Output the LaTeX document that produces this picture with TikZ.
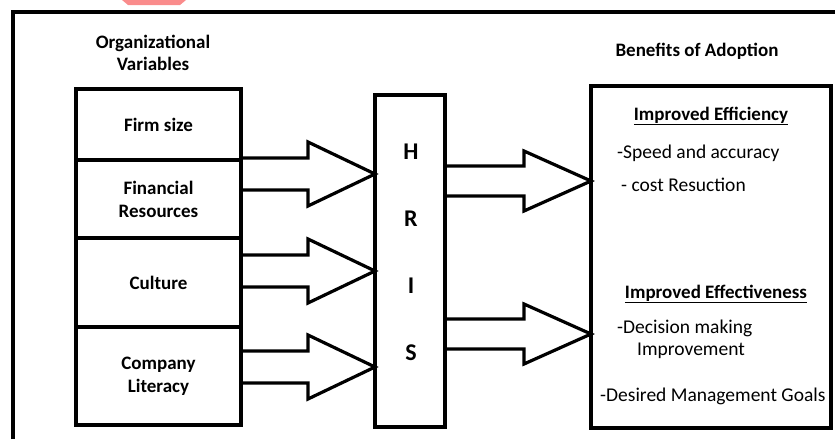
\documentclass[tikz,border=0pt]{standalone}
\usepackage{fontspec}
\setmainfont{Carlito}
\usetikzlibrary{positioning,calc}
\definecolor{marker}{RGB}{250,140,140}
\tikzset{
  every node/.style={font=\fontsize{19.5}{23}\selectfont},
  cell/.style={rectangle,draw=black,line width=3.2pt,outer sep=0pt,minimum width=165pt,align=center,font=\fontsize{19}{23}\selectfont\bfseries},
  bigbox/.style={rectangle,draw=black,line width=3.2pt,outer sep=0pt},
  heading/.style={align=center,inner sep=0pt,font=\fontsize{19}{22.5}\selectfont\bfseries},
  letter/.style={inner sep=0pt,font=\fontsize{24}{24}\selectfont\bfseries},
  item/.style={anchor=west,inner sep=0pt},
  arrowline/.style={line width=3.2pt}
}
% block arrow: tail, tip, shaft half width, head half width
\newcommand\blockarrow[4]{%
  \draw[arrowline] ($(#1)+(0,-#3)$) -| ($(#2)+(-67,-#4)$) -- (#2)
    -- ($(#2)+(-67,#4)$) |- ($(#1)+(0,#3)$);}

\begin{document}
\begin{tikzpicture}[x=1pt,y=-1pt]
    \useasboundingbox (0,0) rectangle (835,439);
    \fill[marker] (122,0) -- (186,0) -- (180,5) -- (128,5) -- cycle;
    \draw[line width=3.6pt] (13,439) -- (13,12) -- (835,12);

    \node[heading] (orgvars) at (153,53) {Organizational\\Variables};
    \node[heading] (benefits) at (697,51) {Benefits of Adoption};

    % organizational variables
    \node[cell,minimum height=71pt] (firm) at (158.5,124.5) {Firm size};
    \node[cell,minimum height=78pt,below=0pt of firm] (finance) {Financial\\Resources};
    \node[cell,minimum height=89pt,below=0pt of finance] (culture) {Culture};
    \node[cell,minimum height=98pt,below=0pt of culture] (literacy) {Company\\Literacy};

    % HRIS
    \node[bigbox,minimum width=70pt,minimum height=332pt] (hris) at (410,261) {};
    \foreach \l [count=\i] in {H,R,I,S}
      \node[letter] (letter\i) at (411,85+67*\i) {\l};

    % benefits
    \node[bigbox,minimum width=240pt,minimum height=342pt] (gains) at (711,257) {};
    \node[heading] (effic) at (711,116) {\underline{Improved Efficiency}};
    \node[item] (speed) at (617,153) {-Speed and accuracy};
    \node[item] (cost) at (621,185) {- cost Resuction};
    \node[heading] (effect) at (716,294) {\underline{Improved Effectiveness}};
    \node[item] (decision) at (617,328) {-Decision making};
    \node[item] (improve) at (637,351) {Improvement};
    \node[item] (goals) at (600,396) {-Desired Management Goals};

    % arrows
    \coordinate (t1) at (firm.east |- 0,174);
    \coordinate (h1) at (hris.west |- 0,174);
    \coordinate (t2) at (firm.east |- 0,271);
    \coordinate (h2) at (hris.west |- 0,271);
    \coordinate (t3) at (firm.east |- 0,367);
    \coordinate (h3) at (hris.west |- 0,367);
    \coordinate (t4) at (hris.east |- 0,181);
    \coordinate (h4) at (gains.west |- 0,181);
    \coordinate (t5) at (hris.east |- 0,334);
    \coordinate (h5) at (gains.west |- 0,334);
    \blockarrow{t1}{h1}{16}{32}
    \blockarrow{t2}{h2}{16}{32}
    \blockarrow{t3}{h3}{16}{32}
    \blockarrow{t4}{h4}{15}{30}
    \blockarrow{t5}{h5}{15}{30}
\end{tikzpicture}
\end{document}
